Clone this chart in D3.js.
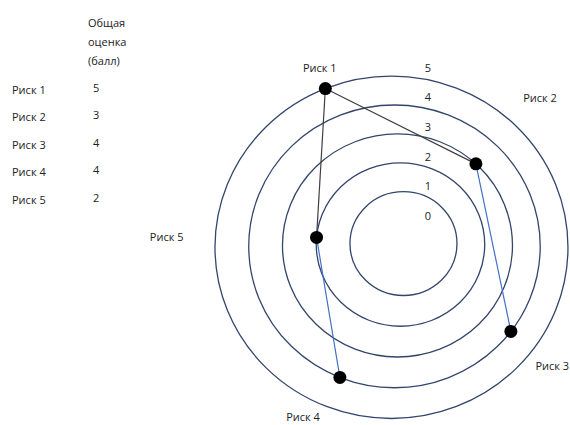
<!DOCTYPE html>
<html>
<head>
<meta charset="utf-8">
<script src="https://cdn.jsdelivr.net/npm/d3@7"></script>
<style>
  body { margin: 0; background: #fff; }
  text { font-family: "Open Sans", sans-serif; font-size: 11px; fill: #222; }
</style>
</head>
<body>
<div id="vis"></div>
<script>
// data
const risks = ['Риск 1', 'Риск 2', 'Риск 3', 'Риск 4', 'Риск 5'];
const scores = [5, 3, 4, 4, 2];
const riskAngles = [-22, 43, 127, 202, 275]; // direction of each risk, degrees clockwise from top
const ringValues = [1, 2, 3, 4, 5];
const ringTicks = [0, 1, 2, 3, 4, 5];
const header = ['Общая', 'оценка', '(балл)'];
const links = [[0, 1], [0, 4], [1, 2], [4, 3]];

const width = 570, height = 425;

let svg = d3.select('#vis')
  .append('svg')
    .attr('width', width)
    .attr('height', height);

// radius of each ring (horizontal); rings are slightly squashed and drift a bit
let rScale = d3.scaleLinear()
  .domain([1, 5])
  .range([53.5, 176.5]);

function ringCenter(v) {
  let r = rScale(v);
  return [408.7 - 0.0976 * r, 242 + 0.03 * r];
}
function ringPoint(v, deg) {
  let c = ringCenter(v), a = deg * Math.PI / 180;
  return [c[0] + rScale(v) * Math.sin(a), c[1] - 0.97 * rScale(v) * Math.cos(a)];
}

// rings
svg.append('g')
  .selectAll('ellipse')
  .data(ringValues)
  .enter().append('ellipse')
    .attr('cx', d => ringCenter(d)[0])
    .attr('cy', d => ringCenter(d)[1])
    .attr('rx', d => rScale(d))
    .attr('ry', d => 0.97 * rScale(d))
    .attr('fill', 'none')
    .attr('stroke', '#33456b')
    .attr('stroke-width', 1.3);

// ring number labels
let tickY = d3.scaleLinear()
  .domain([0, 5])
  .range([216, 68]);

svg.append('g')
  .selectAll('text')
  .data(ringTicks)
  .enter().append('text')
    .attr('x', 428)
    .attr('y', d => tickY(d))
    .attr('dy', '0.35em')
    .attr('text-anchor', 'middle')
    .text(d => d);

// connecting lines
const linkColors = ['#404040', '#404040', '#4472c4', '#4472c4'];
let pts = risks.map((d, i) => ringPoint(scores[i], riskAngles[i]));

svg.append('g')
  .selectAll('line')
  .data(links)
  .enter().append('line')
    .attr('x1', d => pts[d[0]][0])
    .attr('y1', d => pts[d[0]][1])
    .attr('x2', d => pts[d[1]][0])
    .attr('y2', d => pts[d[1]][1])
    .attr('stroke', (d, i) => linkColors[i])
    .attr('stroke-width', 1.2);

// dots
svg.append('g')
  .selectAll('circle')
  .data(pts)
  .enter().append('circle')
    .attr('cx', d => d[0])
    .attr('cy', d => d[1])
    .attr('r', 6.5)
    .attr('fill', '#000');

// risk labels around the chart (layout only)
const labelAngle = [-21.8, 45, 126.5, 207.5, 272.5];
const labelDist = [193, 210, 200, 191.6, 225];
svg.append('g')
  .selectAll('text')
  .data(risks)
  .enter().append('text')
    .attr('x', (d, i) => 391.5 + labelDist[i] * Math.sin(labelAngle[i] * Math.PI / 180))
    .attr('y', (d, i) => 247 - labelDist[i] * Math.cos(labelAngle[i] * Math.PI / 180))
    .attr('dy', '0.35em')
    .attr('text-anchor', 'middle')
    .text(d => d);

// table on the left
let rowY = d3.scalePoint()
  .domain(risks)
  .range([90, 200]);

svg.append('g')
  .selectAll('text')
  .data(header)
  .enter().append('text')
    .attr('x', 88)
    .attr('y', (d, i) => 23 + i * 19)
    .attr('dy', '0.35em')
    .text(d => d);

svg.append('g')
  .selectAll('text')
  .data(risks)
  .enter().append('text')
    .attr('x', 12)
    .attr('y', d => rowY(d))
    .attr('dy', '0.35em')
    .text(d => d);

svg.append('g')
  .selectAll('text')
  .data(scores)
  .enter().append('text')
    .attr('x', 93)
    .attr('y', (d, i) => rowY(risks[i]) - 2)
    .attr('dy', '0.35em')
    .text(d => d);
</script>
</body>
</html>
